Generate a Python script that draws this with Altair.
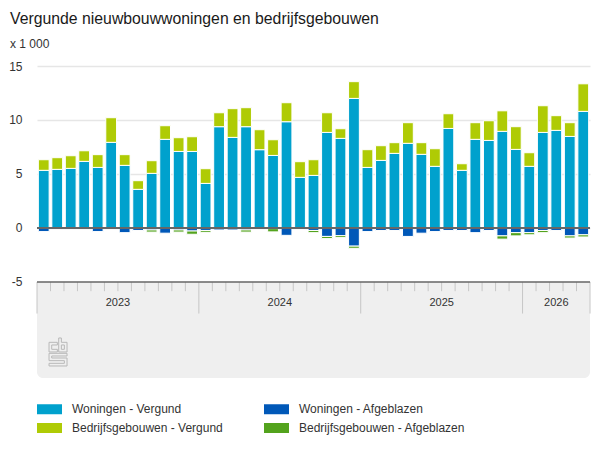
import altair as alt
import pandas as pd

TITLE = "Vergunde nieuwbouwwoningen en bedrijfsgebouwen"
UNIT = "x 1 000"
YEARS = ["2023", "2024", "2025", "2026"]
YEAR_CENTERS = [6, 18, 30, 38.5]
YEAR_EDGES = [0, 12, 24, 36, 41]
SERIES = ["Woningen - Vergund", "Bedrijfsgebouwen - Vergund", "Woningen - Afgeblazen", "Bedrijfsgebouwen - Afgeblazen"]
COLORS = ["#00a1cd", "#afcb05", "#0058b8", "#53a31d"]

months = [f"{y}-{m:02d}" for y in (2023, 2024, 2025) for m in range(1, 13)] + [f"2026-{m:02d}" for m in range(1, 6)]

woningen_vergund = [5.34, 5.43, 5.52, 6.17, 5.61, 7.93, 5.80, 3.58, 5.06, 8.21, 7.09, 7.09, 4.13, 9.38, 8.39, 9.38, 7.25, 6.72, 9.84, 4.69,
                    4.87, 8.85, 8.30, 12.00, 5.61, 6.26, 6.91, 7.84, 6.82, 5.71, 9.22, 5.34, 8.21, 8.11, 8.95, 7.28, 5.71, 8.85, 9.04, 8.48, 10.80]
totaal_vergund = [6.32, 6.51, 6.69, 7.15, 6.79, 10.21, 6.79, 4.38, 6.23, 9.47, 8.36, 8.45, 5.49, 10.67, 11.05, 11.14, 9.10, 8.17, 11.60, 6.14,
                  6.32, 10.67, 9.19, 13.55, 7.25, 7.62, 7.90, 9.75, 7.90, 7.34, 10.58, 5.95, 9.75, 9.93, 10.85, 9.38, 6.97, 11.32, 10.40, 9.75, 13.35]
woningen_afgeblazen = [-0.33, 0, 0, 0, -0.33, 0, -0.43, -0.23, -0.18, -0.48, -0.18, -0.28, -0.23, -0.18, -0.18, -0.18, 0, -0.06, -0.68, -0.08,
                       -0.23, -0.78, -0.71, -1.68, -0.33, -0.23, -0.23, -0.78, -0.48, -0.33, -0.23, -0.23, -0.43, -0.23, -0.73, -0.43, -0.43, -0.23, -0.23, -0.73, -0.63]
bedrijf_afgeblazen = [0, 0, 0, 0, 0, 0, 0, 0, -0.2, 0, -0.2, -0.3, -0.17, 0, 0, -0.2, 0, -0.3, 0, 0,
                      -0.2, -0.2, -0.18, -0.2, 0, 0, 0, 0, 0, 0, 0, 0, 0, 0, -0.3, -0.3, -0.2, -0.2, 0, -0.2, -0.2]

rows = []
for i, m in enumerate(months):
    vals = [woningen_vergund[i], totaal_vergund[i] - woningen_vergund[i], woningen_afgeblazen[i], bedrijf_afgeblazen[i]]
    for k, (s, v) in enumerate(zip(SERIES, vals)):
        if v != 0:
            rows.append({"month": m, "series": s, "value": round(v, 2), "order": k})
bars_df = pd.DataFrame(rows)

Y_TOP, Y_AXIS, Y_PANEL = 15, -5, -13.889
y_scale = alt.Scale(domain=[Y_PANEL, Y_TOP], nice=False, zero=False)
x_q = alt.Scale(domain=[0, 41], nice=False, zero=False)
FONT = "Liberation Sans"

bars = alt.Chart(bars_df).mark_bar(stroke="white", strokeWidth=1).encode(
    x=alt.X("month:O", sort=None, axis=None,
            scale=alt.Scale(domain=months, paddingInner=0.2, paddingOuter=0.1)),
    y=alt.Y("value:Q", stack="zero", scale=y_scale, title=None,
            axis=alt.Axis(values=[-5, 0, 5, 10, 15], grid=True, gridColor="#e6e6e6", gridWidth=1.5,
                          domain=False, ticks=False, labelPadding=15, labelFontSize=12,
                          labelColor="#333333", labelFont=FONT, labelExpr="'' + datum.value")),
    color=alt.Color("series:N", scale=alt.Scale(domain=SERIES, range=COLORS),
                    legend=alt.Legend(title=None, orient="none", legendX=0, legendY=330.5, columns=2,
                                      direction="vertical", symbolType="M-1,-0.4L1,-0.4L1,0.4L-1,0.4Z",
                                      symbolSize=625, symbolStrokeWidth=0, labelFontSize=12, labelFont=FONT,
                                      labelColor="#333333", labelOffset=10, columnPadding=41, rowPadding=-6,
                                      labelLimit=300, symbolOpacity=1)),
    order=alt.Order("order:Q"),
)

panel_df = pd.DataFrame({"a": [0], "b": [41], "y": [Y_AXIS], "y2": [Y_PANEL]})
panel = alt.Chart(panel_df).mark_rect(color="#efefef", cornerRadiusBottomLeft=6, cornerRadiusBottomRight=6).encode(
    x=alt.X("a:Q", scale=x_q, axis=None), x2="b:Q",
    y=alt.Y("y:Q", scale=y_scale), y2="y2:Q")

tick_df = pd.DataFrame({"x": list(range(42))})
tick_df["y"] = Y_AXIS
tick_df["y2"] = [-7.92 if i in YEAR_EDGES else -5.85 for i in tick_df["x"]]
ticks = alt.Chart(tick_df).mark_rule(color="#c6c6c6", strokeWidth=1).encode(
    x=alt.X("x:Q", scale=x_q, axis=None), y=alt.Y("y:Q", scale=y_scale), y2="y2:Q")

lines_df = pd.DataFrame({"y": [0, Y_AXIS], "w": [2, 1.5]})
lines = alt.Chart(lines_df).mark_rule(color="#666666").encode(
    y=alt.Y("y:Q", scale=y_scale), strokeWidth=alt.StrokeWidth("w:Q", scale=None))

years_df = pd.DataFrame({"x": YEAR_CENTERS, "y": [-6.95] * 4, "t": YEARS})
years = alt.Chart(years_df).mark_text(fontSize=11, font=FONT, color="#333333").encode(
    x=alt.X("x:Q", scale=x_q, axis=None), y=alt.Y("y:Q", scale=y_scale), text="t:N")

# CBS logo outline
outlines = [
    [(147, 367), (172, 367), (172, 375), (155, 375), (155, 388), (172, 388), (172, 396), (147, 396)],
    [(176, 354), (184, 354), (184, 367), (201, 367), (201, 396), (176, 396)],
    [(184, 375), (193, 375), (193, 388), (184, 388)],
    [(147, 400), (201, 400), (201, 408), (155, 408), (155, 414), (201, 414), (201, 438), (147, 438), (147, 430), (193, 430), (193, 422), (147, 422)],
]
logo_path = " ".join(
    "M" + "L".join(f"{(px - 174) / 42:.3f},{(py - 396) / 42:.3f}" for px, py in o) + "Z" for o in outlines
)
logo_df = pd.DataFrame({"x": [1.56], "y": [-11.48]})
logo = alt.Chart(logo_df).mark_point(shape=logo_path, size=784, filled=False, stroke="#b8b8b8", strokeWidth=1, opacity=1).encode(
    x=alt.X("x:Q", scale=x_q, axis=None), y=alt.Y("y:Q", scale=y_scale))

chart = alt.layer(bars, panel, ticks, lines, years, logo).resolve_scale(x="independent").properties(
    width=553, height=312,
    autosize=alt.AutoSizeParams(type="none"),
    padding={"left": 29, "top": 58, "right": 2, "bottom": 66},
    title=alt.TitleParams(text=TITLE, subtitle=UNIT, anchor="start", frame="group", dx=-27, offset=9,
                          font=FONT, fontSize=15.8, fontWeight="normal", color="#1a1a1a",
                          subtitleFont=FONT, subtitleFontSize=12, subtitleColor="#333333", subtitlePadding=11),
).configure_view(stroke=None)

chart.save("out.html", embed_options={"renderer": "svg", "actions": False})
